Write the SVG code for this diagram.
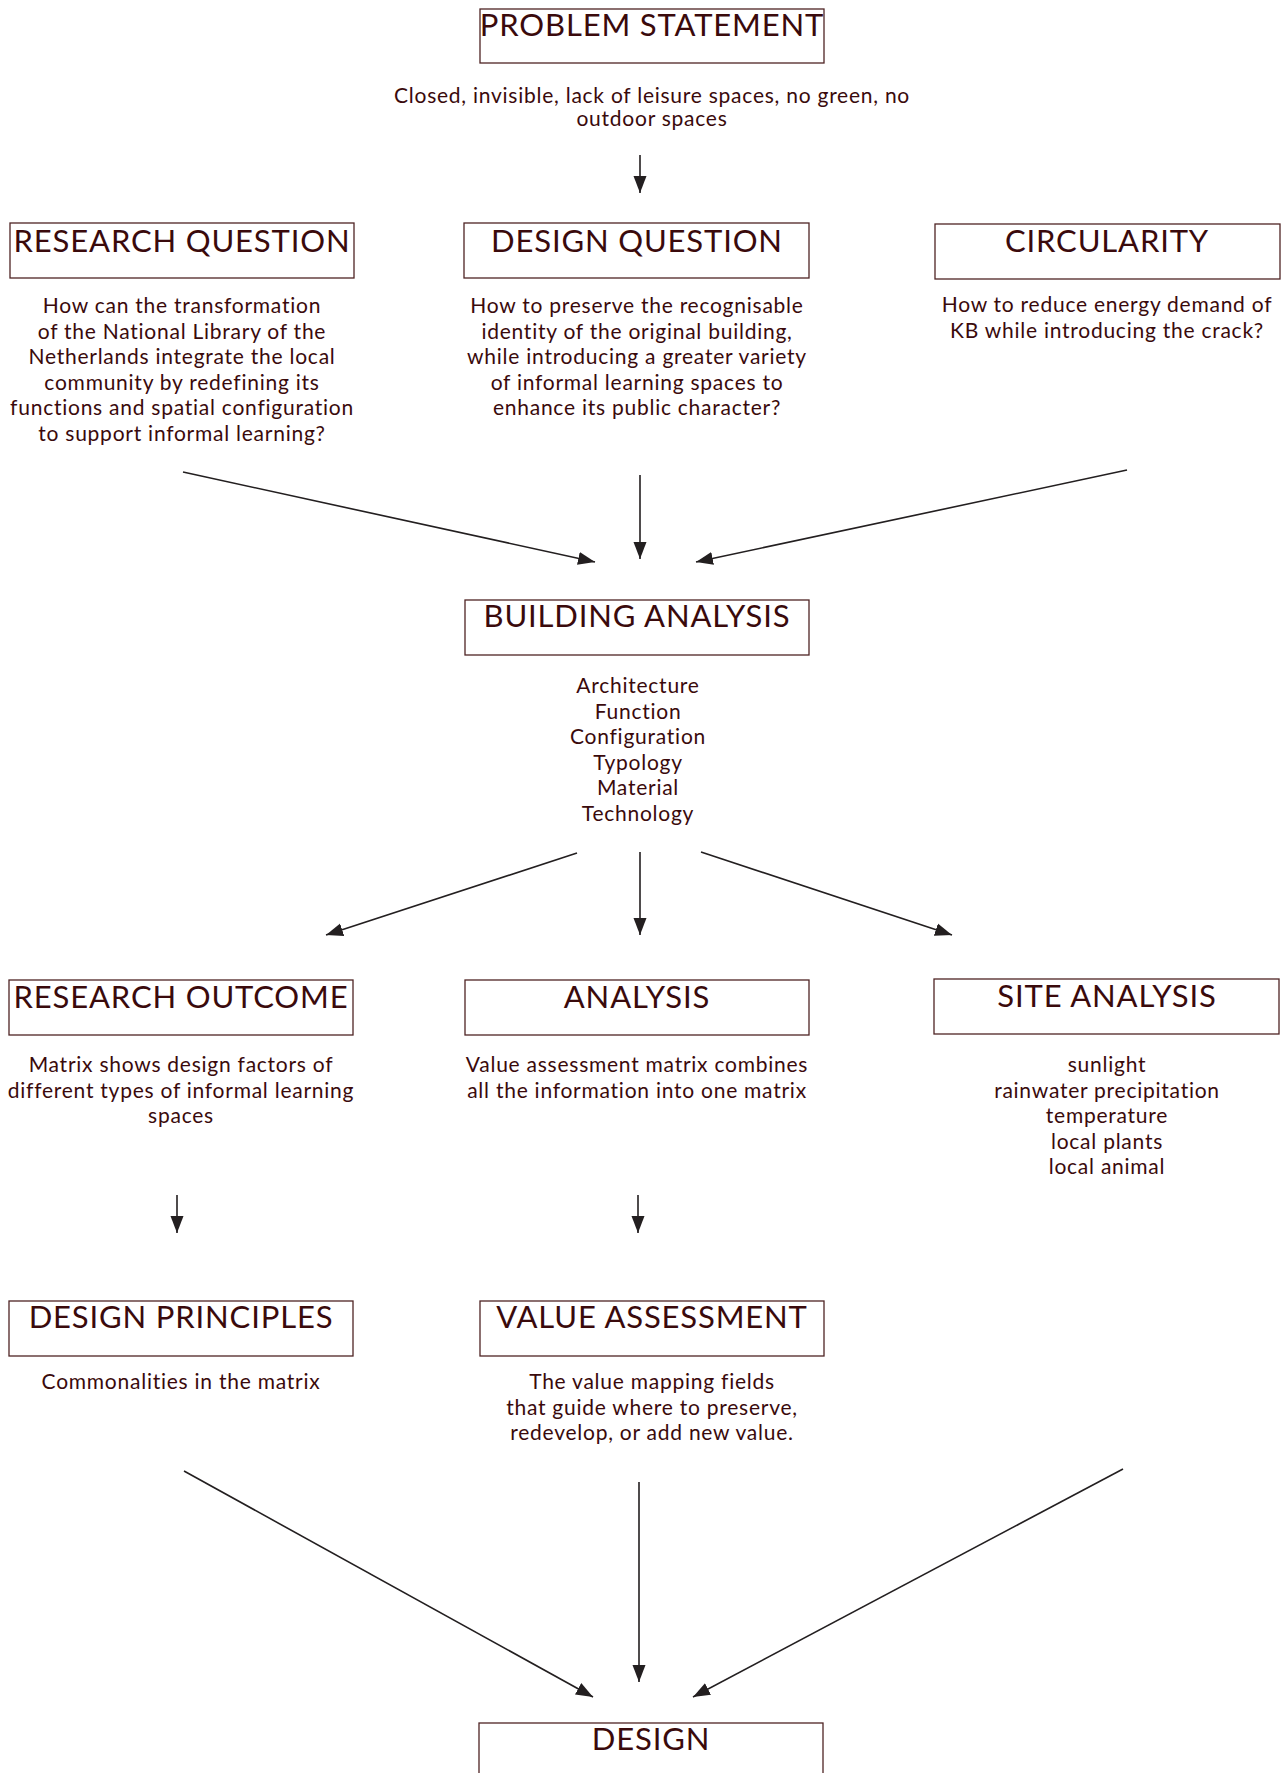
<svg xmlns="http://www.w3.org/2000/svg" width="1285" height="1773" viewBox="0 0 1285 1773">
<defs>
<marker id="ah" markerUnits="userSpaceOnUse" markerWidth="18" markerHeight="14" viewBox="0 0 18 14" refX="17" refY="7" orient="auto">
<path d="M0,0.5 L17,7 L0,13.5 Z" fill="#231f20"/>
</marker>
<style>
.box{fill:#fff;stroke:#4f2424;stroke-width:1.3}
.t{font-family:Lato,"Noto Sans",sans-serif;font-size:31px;letter-spacing:0.85px;fill:#3a0a0c;text-anchor:middle}
.b{font-family:Lato,"Noto Sans",sans-serif;font-size:21px;letter-spacing:0.75px;fill:#3a0a0c;text-anchor:middle}
.c{stroke:#231f20;stroke-width:1.6;fill:none;marker-end:url(#ah)}
</style>
</defs>
<rect width="1285" height="1773" fill="#fff"/>

<g id="problem-statement">
<rect class="box" x="480" y="9" width="344" height="54"/>
<text class="t" x="652" y="36">PROBLEM STATEMENT</text>
<text class="b" x="652" y="103">Closed, invisible, lack of leisure spaces, no green, no</text>
<text class="b" x="652" y="126">outdoor spaces</text>
</g>

<g id="research-question">
<rect class="box" x="10" y="223" width="344" height="55"/>
<text class="t" x="182" y="252">RESEARCH QUESTION</text>
<text class="b" x="182" y="313">How can the transformation</text>
<text class="b" x="182" y="338.5">of the National Library of the</text>
<text class="b" x="182" y="364">Netherlands integrate the local</text>
<text class="b" x="182" y="389.5">community by redefining its</text>
<text class="b" x="182" y="415">functions and spatial configuration</text>
<text class="b" x="182" y="440.5">to support informal learning?</text>
</g>

<g id="design-question">
<rect class="box" x="464" y="223" width="345" height="55"/>
<text class="t" x="637" y="252">DESIGN QUESTION</text>
<text class="b" x="637" y="313">How to preserve the recognisable</text>
<text class="b" x="637" y="338.5">identity of the original building,</text>
<text class="b" x="637" y="364">while introducing a greater variety</text>
<text class="b" x="637" y="389.5">of informal learning spaces to</text>
<text class="b" x="637" y="415">enhance its public character?</text>
</g>

<g id="circularity">
<rect class="box" x="935" y="224" width="345" height="55"/>
<text class="t" x="1107" y="252">CIRCULARITY</text>
<text class="b" x="1107" y="312">How to reduce energy demand of</text>
<text class="b" x="1107" y="338">KB while introducing the crack?</text>
</g>

<g id="building-analysis">
<rect class="box" x="465" y="600" width="344" height="55"/>
<text class="t" x="637" y="627">BUILDING ANALYSIS</text>
<text class="b" x="638" y="693">Architecture</text>
<text class="b" x="638" y="718.5">Function</text>
<text class="b" x="638" y="744">Configuration</text>
<text class="b" x="638" y="769.5">Typology</text>
<text class="b" x="638" y="795">Material</text>
<text class="b" x="638" y="820.5">Technology</text>
</g>

<g id="research-outcome">
<rect class="box" x="9" y="980" width="344" height="55"/>
<text class="t" x="181" y="1008">RESEARCH OUTCOME</text>
<text class="b" x="181" y="1072">Matrix shows design factors of</text>
<text class="b" x="181" y="1097.5">different types of informal learning</text>
<text class="b" x="181" y="1123">spaces</text>
</g>

<g id="analysis">
<rect class="box" x="465" y="980" width="344" height="55"/>
<text class="t" x="637" y="1008">ANALYSIS</text>
<text class="b" x="637" y="1072">Value assessment matrix combines</text>
<text class="b" x="637" y="1097.5">all the information into one matrix</text>
</g>

<g id="site-analysis">
<rect class="box" x="934" y="979" width="345" height="55"/>
<text class="t" x="1107" y="1007">SITE ANALYSIS</text>
<text class="b" x="1107" y="1072">sunlight</text>
<text class="b" x="1107" y="1097.5">rainwater precipitation</text>
<text class="b" x="1107" y="1123">temperature</text>
<text class="b" x="1107" y="1148.5">local plants</text>
<text class="b" x="1107" y="1174">local animal</text>
</g>

<g id="design-principles">
<rect class="box" x="9" y="1301" width="344" height="55"/>
<text class="t" x="181" y="1328">DESIGN PRINCIPLES</text>
<text class="b" x="181" y="1389">Commonalities in the matrix</text>
</g>

<g id="value-assessment">
<rect class="box" x="480" y="1301" width="344" height="55"/>
<text class="t" x="652" y="1328">VALUE ASSESSMENT</text>
<text class="b" x="652" y="1389">The value mapping fields</text>
<text class="b" x="652" y="1414.5">that guide where to preserve,</text>
<text class="b" x="652" y="1440">redevelop, or add new value.</text>
</g>

<g id="design">
<rect class="box" x="479" y="1723" width="344" height="60"/>
<text class="t" x="651" y="1750">DESIGN</text>
</g>

<g id="connectors">
<line class="c" x1="640" y1="155" x2="640" y2="193"/>
<line class="c" x1="183" y1="472" x2="595" y2="562"/>
<line class="c" x1="640" y1="475" x2="640" y2="559"/>
<line class="c" x1="1127" y1="470" x2="696" y2="562"/>
<line class="c" x1="577" y1="853" x2="326" y2="935"/>
<line class="c" x1="640" y1="852" x2="640" y2="935"/>
<line class="c" x1="701" y1="852" x2="952" y2="935"/>
<line class="c" x1="177" y1="1195" x2="177" y2="1233"/>
<line class="c" x1="638" y1="1195" x2="638" y2="1233"/>
<line class="c" x1="184" y1="1471" x2="593" y2="1697"/>
<line class="c" x1="639" y1="1482" x2="639" y2="1682"/>
<line class="c" x1="1123" y1="1469" x2="693" y2="1697"/>
</g>
</svg>
